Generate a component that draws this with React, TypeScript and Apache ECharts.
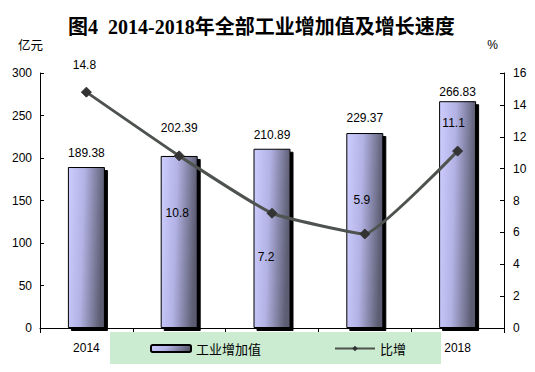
import React, { useEffect, useRef } from "react";
import * as echarts from "echarts";

const years = ["2014", "2015", "2016", "2017", "2018"];
const industryValueAdded = [189.38, 202.39, 210.89, 229.37, 266.83];
const growthRate = [14.8, 10.8, 7.2, 5.9, 11.1];
const leftTicks = { min: 0, max: 300, interval: 50 };
const rightTicks = { min: 0, max: 16, interval: 2 };

// label placement (layout only)
const barLabelDistance = [8, 22, 8, 9, 3];
const growthLabelPos = ["top", "bottom", "bottom", "top", "top"];
const growthLabelDistance = [16, 46, 32, 22, 17];
const growthLabelDx = [-2, -2, -6, -3, -4];

const FONT = '"Liberation Sans", Arial, "Noto Sans CJK SC", sans-serif';

export default function App() {
  const ref = useRef<HTMLDivElement>(null);
  useEffect(() => {
    if (!ref.current) return;
    const chart = echarts.init(ref.current, null, { renderer: "svg" });
    const barGradient = new echarts.graphic.LinearGradient(0, 0, 1, 0.15, [
      { offset: 0, color: "#cdcdff" },
      { offset: 0.45, color: "#b2b2e4" },
      { offset: 1, color: "#5c5c72" },
    ]);
    chart.setOption({
      animation: false,
      backgroundColor: "#ffffff",
      textStyle: { fontFamily: FONT, color: "#000" },
      title: {
        text: "图4  2014-2018年全部工业增加值及增长速度",
        left: 68,
        top: 17,
        padding: 0,
        textStyle: {
          fontFamily: '"Liberation Serif", "Noto Sans CJK SC", serif',
          fontWeight: "bold",
          fontSize: 20,
          color: "#000",
        },
      },
      grid: { left: 40, right: 31, top: 73, bottom: 44, containLabel: false },
      legend: {
        left: 110,
        top: 332,
        padding: [10, 35, 9, 40],
        itemGap: 73,
        itemWidth: 40,
        itemHeight: 7,
        backgroundColor: "#cbecd0",
        z: 10,
        textStyle: { fontFamily: '"Noto Sans CJK SC", sans-serif', fontSize: 13, color: "#000" },
        data: ["工业增加值", "比增"],
      },
      xAxis: {
        type: "category",
        data: years,
        axisLine: { lineStyle: { color: "#000", width: 1 } },
        axisTick: { show: true, length: 5, lineStyle: { color: "#000" } },
        axisLabel: { color: "#000", fontSize: 12, margin: 14, fontFamily: FONT },
      },
      yAxis: [
        {
          type: "value",
          min: leftTicks.min,
          max: leftTicks.max,
          interval: leftTicks.interval,
          name: "亿元",
          nameLocation: "end",
          nameGap: 22,
          nameTextStyle: {
            color: "#000",
            fontSize: 12.5,
            align: "right",
            padding: [0, -3, 0, 0],
            fontFamily: '"Noto Sans CJK SC", sans-serif',
          },
          axisLine: { show: true, lineStyle: { color: "#000" } },
          axisTick: { show: true, inside: true, length: 4, lineStyle: { color: "#000" } },
          axisLabel: { color: "#000", fontSize: 12, margin: 8, fontFamily: FONT },
          splitLine: { show: false },
        },
        {
          type: "value",
          min: rightTicks.min,
          max: rightTicks.max,
          interval: rightTicks.interval,
          name: "%",
          nameLocation: "end",
          nameGap: 22,
          nameTextStyle: { color: "#000", fontSize: 12, align: "right", padding: [0, 6, 0, 0], fontFamily: FONT },
          position: "right",
          axisLine: { show: true, lineStyle: { color: "#000" } },
          axisTick: { show: true, inside: true, length: 4, lineStyle: { color: "#000" } },
          axisLabel: { color: "#000", fontSize: 12, margin: 9, fontFamily: FONT },
          splitLine: { show: false },
        },
      ],
      series: [
        {
          name: "工业增加值",
          type: "bar",
          yAxisIndex: 0,
          barWidth: 37,
          itemStyle: {
            color: barGradient,
            borderColor: "#000",
            borderWidth: 1,
            shadowColor: "#000",
            shadowBlur: 0,
            shadowOffsetX: 3,
            shadowOffsetY: 3,
          },
          label: { show: true, position: "top", color: "#000", fontSize: 12, fontFamily: FONT },
          data: industryValueAdded.map((v, i) => ({
            value: v,
            label: { distance: barLabelDistance[i] },
          })),
        },
        {
          name: "比增",
          type: "line",
          yAxisIndex: 1,
          smooth: 0.12,
          symbol: "diamond",
          symbolSize: 10,
          z: 5,
          itemStyle: { color: "#333333", borderColor: "#333333" },
          lineStyle: { color: "#4f534f", width: 3 },
          label: { show: true, color: "#000", fontSize: 12, fontFamily: FONT },
          data: growthRate.map((v, i) => ({
            value: v,
            label: {
              position: growthLabelPos[i],
              distance: growthLabelDistance[i],
              offset: [growthLabelDx[i], 0],
            },
          })),
        },
      ],
    });
    return () => chart.dispose();
  }, []);
  return (
    <div
      ref={ref}
      style={{ position: "fixed", left: 0, top: 0, width: 535, height: 372 }}
    />
  );
}
